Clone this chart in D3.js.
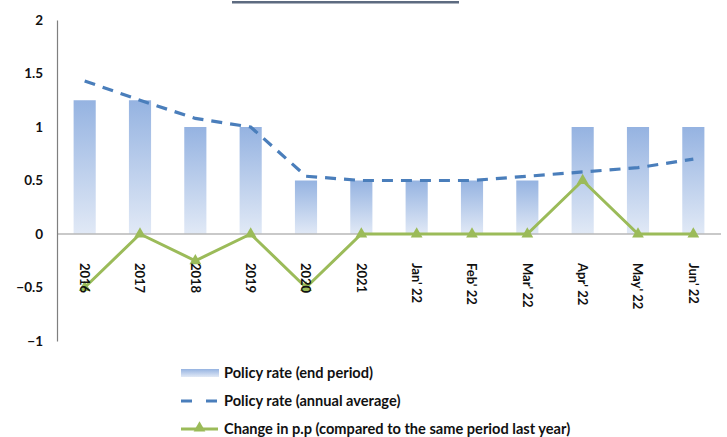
<!DOCTYPE html>
<html>
<head>
<meta charset="utf-8">
<script src="https://cdn.jsdelivr.net/npm/d3@7"></script>
<style>
  body { margin: 0; background: #fff; }
  svg { display: block; font-family: Lato, "Open Sans", sans-serif; }
</style>
</head>
<body>
<svg id="chart" width="727" height="437"></svg>
<script>
// data
const categories = ["2016", "2017", "2018", "2019", "2020", "2021",
  "Jan' 22", "Feb' 22", "Mar' 22", "Apr' 22", "May' 22", "Jun' 22"];
const endPeriod = [1.25, 1.25, 1, 1, 0.5, 0.5, 0.5, 0.5, 0.5, 1, 1, 1];
const annualAvg = [1.43, 1.25, 1.08, 1.0, 0.54, 0.5, 0.5, 0.5, 0.54, 0.58, 0.62, 0.7];
const changePP = [-0.5, 0, -0.25, 0, -0.5, 0, 0, 0, 0, 0.5, 0, 0];
const yTicks = [2, 1.5, 1, 0.5, 0, -0.5, -1];
const legendLabels = ["Policy rate (end period)", "Policy rate (annual average)",
  "Change in p.p (compared to the same period last year)"];

const svg = d3.select('#chart');

const x = d3.scaleBand().domain(categories).range([57, 721]).paddingInner(0.6).paddingOuter(0.3);
const y = d3.scaleLinear().domain([-1, 2]).range([341, 20]);
const cx = d => x(d) + x.bandwidth() / 2;

// bar gradient
const defs = svg.append('defs');
const grad = defs.append('linearGradient').attr('id', 'barGrad')
  .attr('x1', 0).attr('y1', 0).attr('x2', 0).attr('y2', 1);
grad.append('stop').attr('offset', '0%').attr('stop-color', '#95b3e1');
grad.append('stop').attr('offset', '100%').attr('stop-color', '#e1e9f6');

// title underline (the title itself is cut off at the top)
svg.append('rect').attr('x', 232).attr('y', 1).attr('width', 227).attr('height', 2.5)
  .style('fill', '#5d6b80');

// bars
svg.selectAll('rect.bar')
  .data(endPeriod)
  .enter()
  .append('rect')
  .attr('class', 'bar')
  .attr('x', (d, i) => x(categories[i]))
  .attr('y', d => y(d))
  .attr('width', x.bandwidth())
  .attr('height', d => y(0) - y(d))
  .style('fill', 'url(#barGrad)');

// zero line
svg.append('line')
  .attr('x1', 57).attr('x2', 721)
  .attr('y1', y(0)).attr('y2', y(0))
  .style('stroke', '#b7b7b7').style('stroke-width', 1.5);

// y axis
const yAxis = d3.axisLeft(y).tickValues(yTicks).tickSize(0).tickPadding(14)
  .tickFormat(d3.format('~g'));
const gy = svg.append('g').attr('transform', 'translate(57,0)').call(yAxis);
gy.select('.domain').style('stroke', '#7f7f7f').style('stroke-width', 1.2);
gy.selectAll('text').style('font-size', '13.5px').style('font-weight', 'bold')
  .style('fill', '#111').style('font-family', 'Lato, sans-serif');

// dashed line
const dashLine = d3.line().x((d, i) => cx(categories[i])).y(d => y(d));
svg.append('path')
  .datum(annualAvg)
  .attr('d', dashLine)
  .style('fill', 'none')
  .style('stroke', '#4a7ebb')
  .style('stroke-width', 3.2)
  .style('stroke-dasharray', '11,8');

// change line
svg.append('path')
  .datum(changePP)
  .attr('d', dashLine)
  .style('fill', 'none')
  .style('stroke', '#9bbb59')
  .style('stroke-width', 3);

const tri = d3.symbol().type(d3.symbolTriangle).size(60);
svg.selectAll('path.marker')
  .data(changePP)
  .enter()
  .append('path')
  .attr('class', 'marker')
  .attr('d', tri)
  .attr('transform', (d, i) => `translate(${cx(categories[i])},${y(d)})`)
  .style('fill', '#9bbb59');

// x labels, rotated
svg.selectAll('text.xlab')
  .data(categories)
  .enter()
  .append('text')
  .attr('class', 'xlab')
  .attr('transform', d => `translate(${cx(d)},263) rotate(90)`)
  .attr('dy', '0.35em')
  .style('font-size', '13px')
  .style('font-weight', 'bold')
  .style('fill', '#111')
  .text(d => d);

// legend
const legY = [373, 401, 429];
const leg = svg.append('g');
leg.append('rect').attr('x', 181).attr('y', legY[0] - 4).attr('width', 38).attr('height', 8)
  .style('fill', 'url(#barGrad)');
leg.append('line').attr('x1', 181).attr('x2', 218).attr('y1', legY[1]).attr('y2', legY[1])
  .style('stroke', '#4a7ebb').style('stroke-width', 3.2).style('stroke-dasharray', '11,14');
leg.append('line').attr('x1', 181).attr('x2', 218).attr('y1', legY[2]).attr('y2', legY[2])
  .style('stroke', '#9bbb59').style('stroke-width', 3);
leg.append('path').attr('d', tri).attr('transform', `translate(199.5,${legY[2] - 1})`)
  .style('fill', '#9bbb59');
leg.selectAll('text')
  .data(legendLabels)
  .enter()
  .append('text')
  .attr('x', 224)
  .attr('y', (d, i) => legY[i])
  .attr('dy', '0.35em')
  .style('font-size', '14.6px')
  .style('font-weight', 'bold')
  .style('fill', '#111')
  .text(d => d);
</script>
</body>
</html>
